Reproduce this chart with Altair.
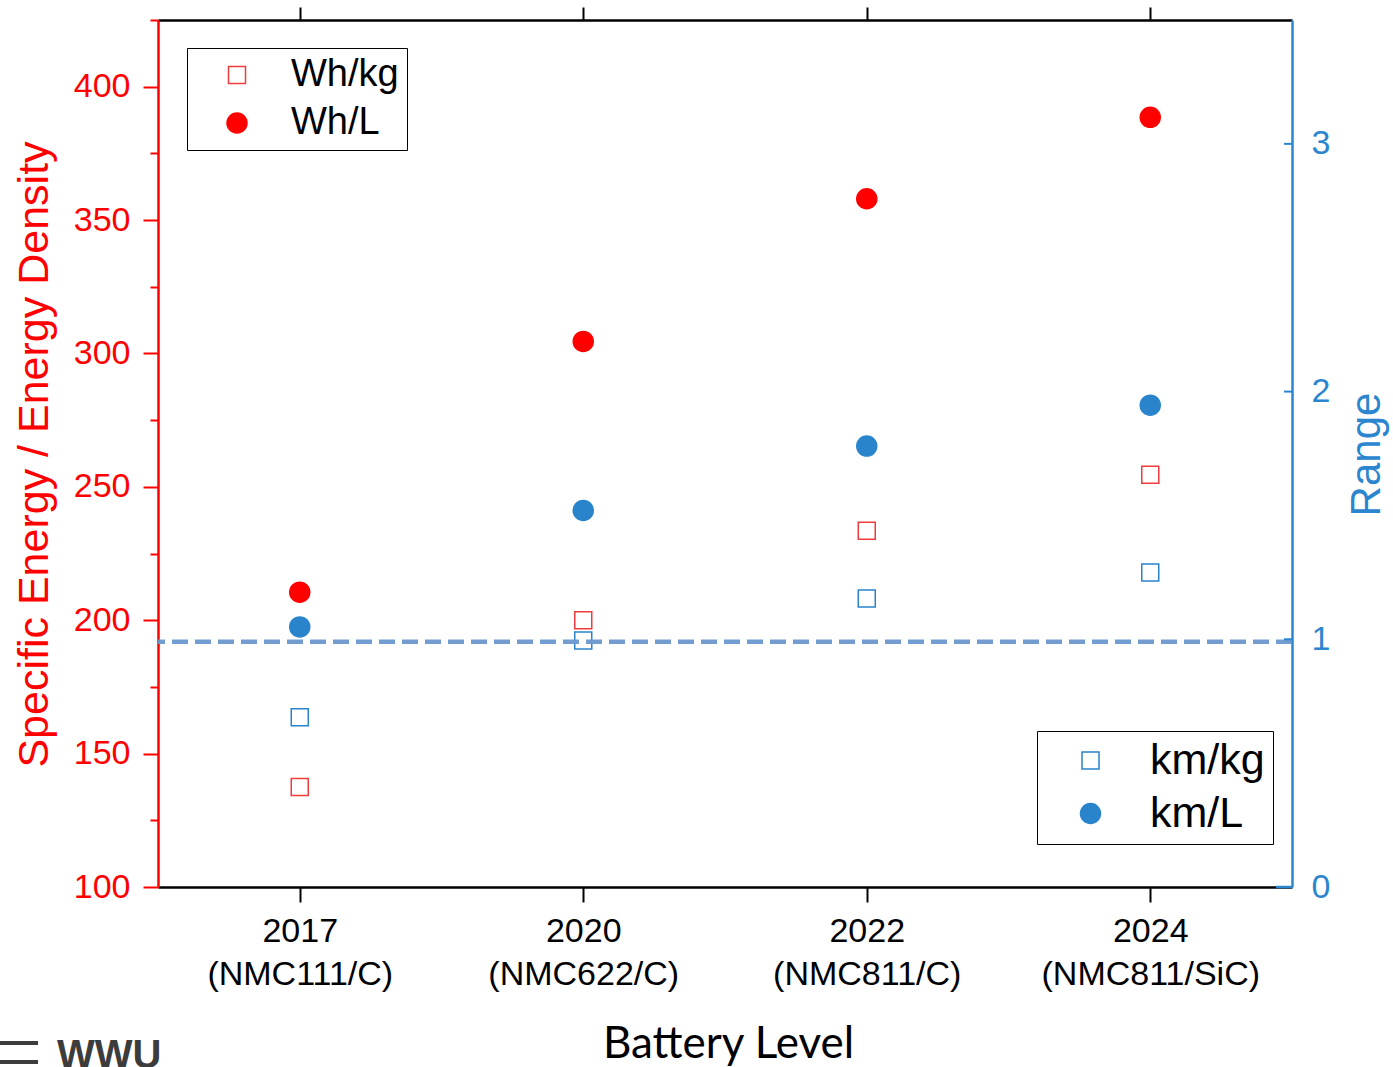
import altair as alt
import pandas as pd

# ---------------- data ----------------
categories = ["2017|(NMC111/C)", "2020|(NMC622/C)", "2022|(NMC811/C)", "2024|(NMC811/SiC)"]
wh_per_kg = [137.5, 200.0, 233.5, 254.5]
wh_per_l = [210.5, 304.5, 358.0, 388.5]
km_per_kg = [0.685, 0.995, 1.165, 1.27]
km_per_l = [1.05, 1.52, 1.78, 1.945]
reference_range = [0.99]
left_tick_values = [100, 125, 150, 175, 200, 225, 250, 275, 300, 325, 350, 375, 400, 425]
right_tick_values = [0, 1, 2, 3]
logo_text = ["WWU"]

RED = "#ff0000"
RED_OPEN = "#f03c3c"
BLUE = "#2a84cc"
AXIS_BLUE = "#2b86cf"
DASH = "#6b98cf"
FONT = "Liberation Sans"

W, H = 1134, 867

red_df = pd.DataFrame({
    "cat": categories * 2,
    "series": ["Wh/kg"] * 4 + ["Wh/L"] * 4,
    "value": wh_per_kg + wh_per_l,
})
blue_df = pd.DataFrame({
    "cat": categories * 2,
    "series": ["km/kg"] * 4 + ["km/L"] * 4,
    "value": km_per_kg + km_per_l,
})
ref_df = pd.DataFrame({"value": reference_range})
rtick_df = pd.DataFrame({"value": right_tick_values[1:]})
rtick0_df = pd.DataFrame({"value": right_tick_values[:1]})
logo_df = pd.DataFrame({"t": logo_text})
logo_bars_df = pd.DataFrame({"b": [0, 1]})

x_scale = alt.Scale(type="point", domain=categories, padding=0.5)
left_scale = alt.Scale(domain=[100, 425], nice=False, zero=False)
right_scale = alt.Scale(domain=[0, 3.5], nice=False, zero=False)

bottom_axis = alt.Axis(
    orient="bottom", domainColor="black", domainWidth=2.5, tickColor="black",
    tickWidth=2, tickSize=15, labelFont=FONT, labelFontSize=34, labelColor="black",
    labelPadding=12, labelAngle=0, labelBaseline="top", labelLineHeight=43,
    labelExpr="split(datum.label, '|')", labelLimit=500, grid=False,
    title="Battery Level", titleFont="Lato", titleFontSize=44, titleFontWeight="normal",
    titleColor="black", titleX=570, titleY=157, titleBaseline="middle", titleAlign="center",
)
top_axis = alt.Axis(
    orient="top", domainColor="black", domainWidth=2.5, tickColor="black",
    tickWidth=2, tickSize=13, labels=False, grid=False, title=None,
)
left_axis = alt.Axis(
    orient="left", values=left_tick_values, domainColor=RED, domainWidth=2.5,
    tickColor=RED, tickWidth=2,
    tickSize={"condition": {"test": "datum.value % 50 === 0", "value": 15}, "value": 8},
    labelExpr="datum.value % 50 === 0 && datum.value <= 400 ? datum.label : ''",
    labelFont=FONT, labelFontSize=34, labelColor=RED, labelPadding=13, grid=False,
    title="Specific Energy / Energy Density", titleFont=FONT, titleFontSize=43,
    titleFontWeight="normal", titleColor=RED, titleAngle=270, titleX=-124, titleY=434,
    titleBaseline="middle", titleAlign="center",
)
right_axis = alt.Axis(
    orient="right", values=right_tick_values, domainColor=AXIS_BLUE, domainWidth=2.5,
    domainOpacity=1, ticks=False, labelFont=FONT, labelFontSize=34, labelColor=AXIS_BLUE,
    labelPadding=19, grid=False, title="Range", titleFont=FONT, titleFontSize=42,
    titleFontWeight="normal", titleColor=AXIS_BLUE, titleAngle=270, titleX=74, titleY=434,
    titleBaseline="middle", titleAlign="center",
)

def legend(x, y, sym_off, lab_off, row_pad, font_size):
    return alt.Legend(
        title=None, orient="none", legendX=x, legendY=y, strokeColor="black",
        fillColor="white", padding=8, labelFont=FONT, labelFontSize=font_size,
        labelColor="black", symbolStrokeWidth=1.5, rowPadding=row_pad,
        symbolOffset=sym_off, labelOffset=lab_off, labelLimit=300,
    )

red_legend = legend(29, 28, 23, 35, 10, 38)
blue_legend = legend(879, 711, 24, 38, 9, 43)

red = alt.Chart(red_df).mark_point(strokeWidth=1.5, opacity=1).encode(
    x=alt.X("cat:N", scale=x_scale, axis=bottom_axis),
    y=alt.Y("value:Q", scale=left_scale, axis=left_axis),
    shape=alt.Shape("series:N", scale=alt.Scale(domain=["Wh/kg", "Wh/L"], range=["square", "circle"]), legend=red_legend),
    fill=alt.Fill("series:N", scale=alt.Scale(domain=["Wh/kg", "Wh/L"], range=["transparent", RED]), legend=red_legend),
    stroke=alt.Stroke("series:N", scale=alt.Scale(domain=["Wh/kg", "Wh/L"], range=[RED_OPEN, RED]), legend=red_legend),
    size=alt.Size("series:N", scale=alt.Scale(domain=["Wh/kg", "Wh/L"], range=[289, 400]), legend=red_legend),
)

blue_pts = alt.Chart(blue_df).mark_point(strokeWidth=1.5, opacity=1).encode(
    x=alt.X("cat:N", scale=x_scale, axis=top_axis),
    y=alt.Y("value:Q", scale=right_scale, axis=right_axis),
    shape=alt.Shape("series:N", scale=alt.Scale(domain=["km/kg", "km/L"], range=["square", "circle"]), legend=blue_legend),
    fill=alt.Fill("series:N", scale=alt.Scale(domain=["km/kg", "km/L"], range=["transparent", BLUE]), legend=blue_legend),
    stroke=alt.Stroke("series:N", scale=alt.Scale(domain=["km/kg", "km/L"], range=[BLUE, BLUE]), legend=blue_legend),
    size=alt.Size("series:N", scale=alt.Scale(domain=["km/kg", "km/L"], range=[289, 400]), legend=blue_legend),
)

dash = alt.Chart(ref_df).mark_rule(color=DASH, strokeWidth=4.5, strokeDash=[16, 7], opacity=0.95).encode(
    y=alt.Y("value:Q", scale=right_scale, axis=right_axis),
)

rticks = alt.Chart(rtick_df).mark_rule(color=AXIS_BLUE, strokeWidth=2).encode(
    y=alt.Y("value:Q", scale=right_scale, axis=right_axis),
    x=alt.value(W - 8), x2=alt.value(W),
)
rtick0 = alt.Chart(rtick0_df).mark_rule(color=AXIS_BLUE, strokeWidth=2.5).encode(
    y=alt.Y("value:Q", scale=right_scale, axis=right_axis),
    x=alt.value(W - 16), x2=alt.value(W),
)

blue = alt.layer(blue_pts, dash, rticks, rtick0)

logo = alt.Chart(logo_df).mark_text(
    font=FONT, fontWeight="bold", fontSize=40, color="#3c3c3c", align="left", baseline="alphabetic"
).encode(text="t:N", x=alt.value(-101), y=alt.value(1048))

logo_bars = alt.Chart(logo_bars_df).mark_rule(color="#3c3c3c", strokeWidth=4).encode(
    y=alt.Y("b:Q", scale=alt.Scale(domain=[0, 1], range=[1023, 1042]), axis=None),
    x=alt.value(-158), x2=alt.value(-120),
)

chart = alt.layer(red, blue, logo, logo_bars).resolve_scale(
    y="independent", shape="independent", fill="independent", stroke="independent", size="independent"
).resolve_axis(x="independent").properties(
    width=W, height=H,
    autosize=alt.AutoSizeParams(type="none"),
    padding={"left": 158, "top": 20, "right": 101, "bottom": 180},
    background="white",
).configure_view(stroke=None)

chart.save("out.html", embed_options={"renderer": "svg", "actions": False})
